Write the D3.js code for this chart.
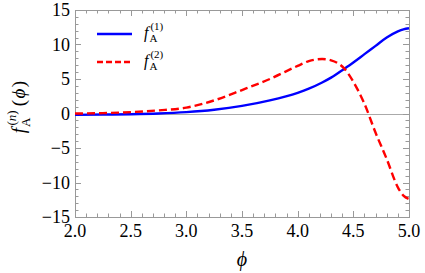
<!DOCTYPE html>
<html lang="en">
<head>
    <meta charset="UTF-8">
    <title>f_A^(n)(phi)</title>
    <script src="https://cdn.jsdelivr.net/npm/d3@7"></script>
    <style>
        body { margin: 0; background: #fff; }
    </style>
</head>
<body>
    <svg id="chart" width="425" height="273"></svg>
    <script>
        // values
        const phi = [2.0, 2.25, 2.5, 2.75, 3.0, 3.25, 3.5, 3.75, 4.0, 4.1, 4.22, 4.3, 4.42, 4.5, 4.6, 4.7, 4.8, 4.9, 4.95, 5.0];
        const f1 = [-0.2, -0.15, -0.1, 0.0, 0.2, 0.55, 1.1, 1.9, 3.0, 3.6, 4.5, 5.2, 6.5, 7.4, 8.6, 9.8, 11.0, 11.9, 12.2, 12.35];
        const f2 = [0.0, 0.05, 0.2, 0.45, 0.85, 1.9, 3.4, 5.0, 6.9, 7.6, 7.9, 7.7, 6.5, 4.6, 1.4, -2.8, -6.6, -10.7, -11.9, -12.4];
        const xTicks = [2.0, 2.5, 3.0, 3.5, 4.0, 4.5, 5.0];
        const yTicks = [-15, -10, -5, 0, 5, 10, 15];
        const legendSup = ["(1)", "(2)"];

        const serif = "'Liberation Serif', 'Times New Roman', Times, 'DejaVu Serif', serif";
        const svg = d3.select("#chart").attr("font-family", serif);
        const mLeft = 75, mRight = 409, mTop = 10, mBottom = 217;

        const x = d3.scaleLinear().domain([2, 5]).range([mLeft, mRight]);
        const y = d3.scaleLinear().domain([-15, 15]).range([mBottom, mTop]);

        const frame = "#999";

        // zero line
        svg.append("line")
            .attr("x1", mLeft).attr("x2", mRight)
            .attr("y1", Math.round(y(0)) + 0.5).attr("y2", Math.round(y(0)) + 0.5)
            .attr("stroke", "#aaa").attr("stroke-width", 1);

        // minor / major ticks on all four sides (pointing inward)
        const xMinor = d3.range(2, 5.0001, 0.1);
        const yMinor = d3.range(-15, 15.0001, 1);
        const isMajX = v => Math.abs(v * 2 - Math.round(v * 2)) < 1e-6;
        const isMajY = v => Math.abs(v / 5 - Math.round(v / 5)) < 1e-6;

        const tg = svg.append("g").attr("stroke", frame).attr("stroke-width", 1);
        xMinor.forEach(v => {
            const len = isMajX(v) ? 6 : 3.5;
            const px = Math.round(x(v)) + 0.5;
            tg.append("line").attr("x1", px).attr("x2", px).attr("y1", mBottom).attr("y2", mBottom - len);
            tg.append("line").attr("x1", px).attr("x2", px).attr("y1", mTop).attr("y2", mTop + len);
        });
        yMinor.forEach(v => {
            const len = isMajY(v) ? 6 : 3.5;
            const py = Math.round(y(v)) + 0.5;
            tg.append("line").attr("x1", mLeft).attr("x2", mLeft + len).attr("y1", py).attr("y2", py);
            tg.append("line").attr("x1", mRight).attr("x2", mRight - len).attr("y1", py).attr("y2", py);
        });

        svg.append("rect")
            .attr("x", mLeft + 0.5).attr("y", mTop + 0.5)
            .attr("width", mRight - mLeft).attr("height", mBottom - mTop)
            .attr("fill", "none").attr("stroke", frame).attr("stroke-width", 1);

        // tick labels
        svg.selectAll(".xl").data(xTicks).enter().append("text")
            .attr("x", d => x(d)).attr("y", 237)
            .attr("text-anchor", "middle").attr("font-size", 18)
            .text(d => d.toFixed(1));

        svg.selectAll(".yl").data(yTicks).enter().append("text")
            .attr("x", 70).attr("y", d => y(d) + 6)
            .attr("text-anchor", "end").attr("font-size", 18)
            .text(d => d < 0 ? "\u2212" + Math.abs(d) : d);

        // curves
        const line = series => d3.line()
            .x((d, i) => x(phi[i]))
            .y(d => y(d))
            .curve(d3.curveMonotoneX)(series);

        svg.append("path").attr("d", line(f1))
            .attr("fill", "none").attr("stroke", "#0000ff").attr("stroke-width", 2.4);
        svg.append("path").attr("d", line(f2))
            .attr("fill", "none").attr("stroke", "#ff0000").attr("stroke-width", 2.4)
            .attr("stroke-dasharray", "8,4");

        // legend
        const colors = ["#0000ff", "#ff0000"];
        const dashes = [null, "6,3"];
        legendSup.forEach((s, i) => {
            const ly = 34 + i * 28;
            svg.append("line")
                .attr("x1", 97).attr("x2", 132).attr("y1", ly).attr("y2", ly)
                .attr("stroke", colors[i]).attr("stroke-width", 2.4)
                .attr("stroke-dasharray", dashes[i]);
            const t = svg.append("text").attr("x", 144).attr("y", ly + 4).attr("font-size", 16);
            t.append("tspan").attr("font-style", "italic").text("f");
            t.append("tspan").attr("font-size", 11).attr("dy", 4).attr("dx", 1).text("A");
            t.append("tspan").attr("font-size", 11).attr("dy", -12).attr("dx", -7).text(s);
        });

        // axis labels
        svg.append("text")
            .attr("x", x(3.5)).attr("y", 266)
            .attr("text-anchor", "middle").attr("font-size", 20)
            .attr("font-style", "italic").text("\u03d5");

        const yl = svg.append("text")
            .attr("transform", "translate(25,107) rotate(-90)")
            .attr("text-anchor", "middle").attr("font-size", 19);
        yl.append("tspan").attr("font-style", "italic").text("f");
        yl.append("tspan").attr("font-size", 13).attr("dy", 5).attr("dx", 1).text("A");
        yl.append("tspan").attr("font-size", 13).attr("dy", -14).attr("dx", -8).text("(");
        yl.append("tspan").attr("font-size", 13).attr("font-style", "italic").text("n");
        yl.append("tspan").attr("font-size", 13).text(")");
        yl.append("tspan").attr("dy", 9).attr("dx", 4).attr("letter-spacing", 1.5).text("(");
        yl.append("tspan").attr("font-style", "italic").attr("letter-spacing", 1.5).text("\u03d5");
        yl.append("tspan").text(")");
    </script>
</body>
</html>
